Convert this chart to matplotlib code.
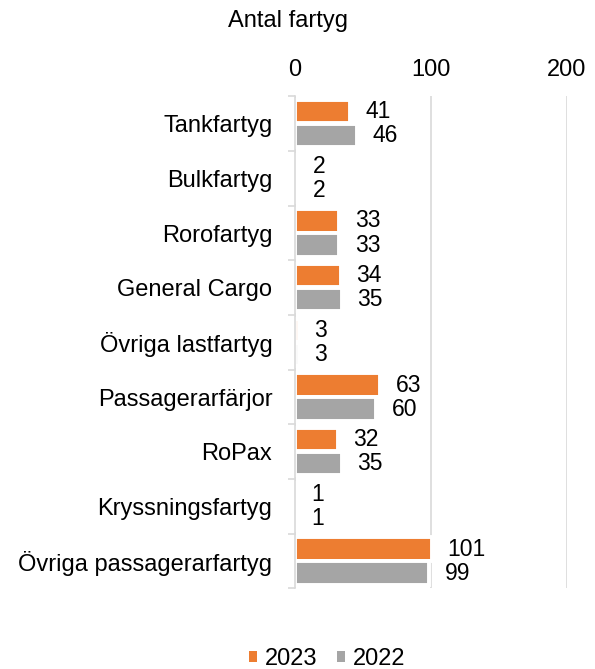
import numpy as np
import matplotlib.pyplot as plt
from matplotlib.patches import Patch

categories = ["Tankfartyg", "Bulkfartyg", "Rorofartyg", "General Cargo",
              "Övriga lastfartyg", "Passagerarfärjor", "RoPax",
              "Kryssningsfartyg", "Övriga passagerarfartyg"]
values_2023 = [41, 2, 33, 34, 3, 63, 32, 1, 101]
values_2022 = [46, 2, 33, 35, 3, 60, 35, 1, 99]
xticks = [0, 100, 200]

plt.rcParams['font.family'] = ['Liberation Sans', 'DejaVu Sans']

fig = plt.figure(figsize=(5.95, 6.69), dpi=100)
ax = fig.add_axes([0.495, 0.1205, 0.458, 0.7355])

y = np.arange(len(categories))
h = 0.43
off = 0.22
b1 = ax.barh(y - off, values_2023, height=h, color='#ED7D31', edgecolor='white', linewidth=2.8)
b2 = ax.barh(y + off, values_2022, height=h, color='#A5A5A5', edgecolor='white', linewidth=2.8)

for bars, vals in ((b1, values_2023), (b2, values_2022)):
    for bar, v in zip(bars, vals):
        ax.annotate(str(v), (bar.get_width(), bar.get_y() + bar.get_height() / 2),
                    xytext=(11, 0), textcoords='offset points', va='center', ha='left',
                    fontsize=16.5)

ax.set_xlim(0, 200)
ax.set_ylim(len(categories) - 0.5, -0.5)
ax.set_xticks(xticks)
ax.xaxis.tick_top()
ax.tick_params(axis='x', length=0, labelsize=17, pad=11)
ax.grid(axis='x', color='#D9D9D9', linewidth=1.2)
ax.set_axisbelow(True)

ax.set_yticks(y)
ax.set_yticklabels(categories, fontsize=17)
ax.tick_params(axis='y', which='major', length=0, pad=16)
ax.set_yticks(np.arange(len(categories) + 1) - 0.5, minor=True)
ax.tick_params(axis='y', which='minor', length=5, color='#D9D9D9', width=1.2)

for s in ('top', 'right', 'bottom'):
    ax.spines[s].set_visible(False)
ax.spines['left'].set_color('#D9D9D9')
ax.spines['left'].set_linewidth(1.2)

fig.text(0.383, 0.968, "Antal fartyg", fontsize=17, ha='left', va='center')

handles = [Patch(facecolor='#ED7D31', edgecolor='none'), Patch(facecolor='#A5A5A5', edgecolor='none')]
fig.legend(handles=handles, labels=['2023', '2022'], loc='center', bbox_to_anchor=(0.55, 0.015),
           ncol=2, frameon=False, fontsize=17, handlelength=0.35, handleheight=0.35,
           handletextpad=0.35, columnspacing=0.8)

fig.savefig("out.png", dpi=100)
